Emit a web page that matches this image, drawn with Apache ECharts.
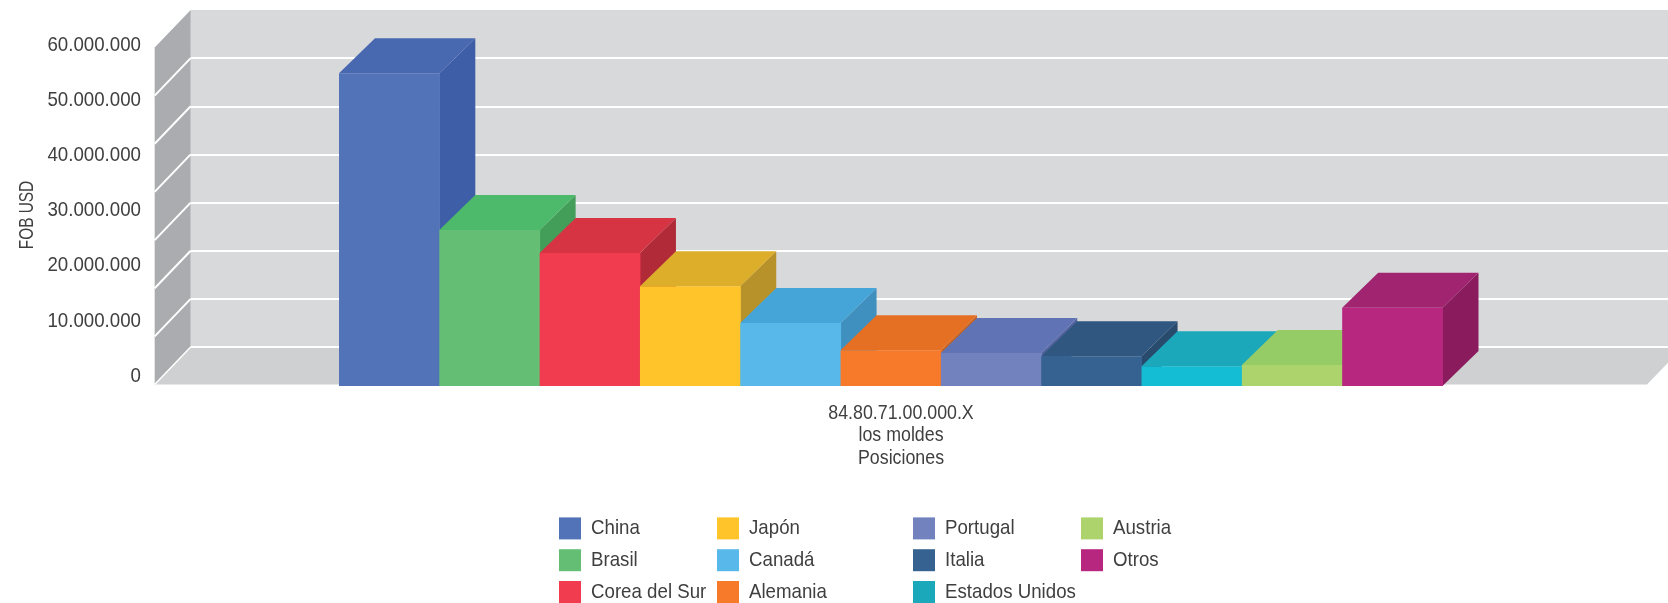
<!DOCTYPE html>
<html><head><meta charset="utf-8">
<style>html,body{margin:0;padding:0;background:#fff}#c{width:1668px;height:603px}</style>
<script src="https://cdn.jsdelivr.net/npm/echarts@6/dist/echarts.min.js"></script>
</head><body><div id="c"></div>
<script>
const categories = ['84.80.71.00.000.X\nlos moldes\nPosiciones'];
const countries = ['China','Brasil','Corea del Sur','Japón','Canadá','Alemania','Portugal','Italia','Estados Unidos','Austria','Otros'];
const values = [56700000,28300000,24100000,18100000,11400000,6500000,6000000,5400000,3600000,3800000,14200000];
const frontColors = ['#5373b9','#64bf75','#f03c4e','#fec429','#58b8e9','#f77a2b','#7182bf','#366292','#14bdd3','#acd36c','#b8277f'];
const topColors   = ['#4868b0','#4dba6b','#d63343','#ddae2a','#45a5d9','#e57024','#6074b5','#30577f','#1ba8bb','#96cc66','#a0246f'];
const sideColors  = ['#3f5ea8','#439e59','#b12a38','#b7922a','#3f8fbf','#c9621f','#5363a0','#284a6d','#178f9f','#80ad57','#8a1c5e'];
const legendColors = ['#5373b9','#64bf75','#f03c4e','#fec429','#58b8e9','#f77a2b','#7182bf','#366292','#1ba8bb','#acd36c','#b8277f'];
const legendColumns = [
  ['China','Brasil','Corea del Sur'],
  ['Japón','Canadá','Alemania'],
  ['Portugal','Italia','Estados Unidos'],
  ['Austria','Otros']
];
const legendLefts = [559,717,913,1081];
const wallLines = [10000000,20000000,30000000,40000000,50000000,60000000];
const FONT = '"Liberation Sans",sans-serif';
const TEXT = '#3f3f3f';
const DX = 36, DY = 35;
const WDX = 36, WDY = 37.5;

function barSeries(name, i) {
  return {
    type: 'custom', name, xAxisIndex: 1, yAxisIndex: 1, z: 3 + i,
    itemStyle: { color: legendColors[i] },
    encode: { x: 0, y: 1 },
    data: [[0, values[i]]],
    renderItem(params, api) {
      const top = api.coord([0, api.value(1)]);
      const base = api.coord([0, 0]);
      const bw = api.size([1, 0])[0] / countries.length;
      const x0 = top[0] + (i - countries.length / 2) * bw;
      const x1 = x0 + bw;
      const yT = top[1], yB = base[1];
      return { type: 'group', children: [
        { type: 'polygon', shape: { points: [[x1,yT],[x1+DX,yT-DY],[x1+DX,yB-DY],[x1,yB]] }, style: { fill: sideColors[i] } },
        { type: 'polygon', shape: { points: [[x0,yT],[x0+DX,yT-DY],[x1+DX,yT-DY],[x1,yT]] }, style: { fill: topColors[i] } },
        { type: 'rect', shape: { x: x0, y: yT, width: bw + 0.5, height: yB - yT }, style: { fill: frontColors[i] } }
      ] };
    }
  };
}

const roomSeries = {
  type: 'custom', xAxisIndex: 2, yAxisIndex: 2, z: 1, silent: true,
  data: [[0, 0]], encode: { x: 0, y: 1 },
  renderItem(params, api) {
    const p0 = api.coord([0, 0]);
    const pTop = api.coord([0, 70000000]);
    const p1 = api.coord([1, 0]);
    const x = p0[0], y0 = p0[1], yT = pTop[1], xR = p1[0] + 15;
    return { type: 'group', children: [
      { type: 'polygon', shape: { points: [[x,yT],[x,y0],[x-WDX,y0+WDY],[x-WDX,yT+WDY]] }, style: { fill: '#abacaf' } },
      { type: 'polygon', shape: { points: [[x,y0],[xR,y0],[xR-WDX,y0+WDY],[x-WDX,y0+WDY]] }, style: { fill: '#cfd0d2' } },
      { type: 'line', shape: { x1: x, y1: y0, x2: x-WDX, y2: y0+WDY }, style: { stroke: '#fff', lineWidth: 1.5 } },
      { type: 'line', shape: { x1: x, y1: y0, x2: xR, y2: y0 }, style: { stroke: '#fff', lineWidth: 2 } }
    ] };
  }
};
const wallLineSeries = {
  type: 'custom', xAxisIndex: 2, yAxisIndex: 2, z: 2, silent: true,
  data: wallLines.map(v => [0, v]), encode: { x: 0, y: 1 },
  renderItem(params, api) {
    const p = api.coord([0, api.value(1)]);
    return { type: 'line', shape: { x1: p[0], y1: p[1], x2: p[0]-WDX, y2: p[1]+WDY }, style: { stroke: '#fff', lineWidth: 2 } };
  }
};

const chart = echarts.init(document.getElementById('c'), null, { renderer: 'canvas' });
chart.setOption({
  animation: false,
  backgroundColor: '#fff',
  textStyle: { fontFamily: FONT },
  grid: [
    { left: 155, width: 1492, top: 45, height: 331, outerBoundsMode: 'none' },
    { left: 339, width: 1103.5, top: 55, height: 331, outerBoundsMode: 'none' },
    { left: 190.67, right: 0, top: 10, height: 337, show: true, backgroundColor: '#d8d9db', borderWidth: 0, outerBoundsMode: 'none' }
  ],
  xAxis: [
    { type: 'category', gridIndex: 0, data: categories, axisLine: { show: false }, axisTick: { show: false },
      axisLabel: { margin: 26, fontSize: 20, color: TEXT, fontFamily: FONT, lineHeight: 22.5 } },
    { type: 'category', gridIndex: 1, data: categories, show: false },
    { type: 'value', gridIndex: 2, min: 0, max: 1, show: false, splitLine: { show: false } }
  ],
  yAxis: [
    { type: 'value', gridIndex: 0, min: 0, max: 60000000, interval: 10000000,
      axisLine: { show: false }, axisTick: { show: false }, splitLine: { show: false },
      axisLabel: { margin: 14, fontSize: 21, color: TEXT, fontFamily: FONT,
        formatter: v => String(v).replace(/\B(?=(\d{3})+$)/g, '.') },
      name: 'FOB USD', nameLocation: 'middle', nameGap: 117.5, nameRotate: 90, nameMoveOverlap: false,
      nameTextStyle: { fontSize: 20, color: TEXT, fontFamily: FONT, padding: [0, 9, 0, 0] } },
    { type: 'value', gridIndex: 1, min: 0, max: 60000000, show: false },
    { type: 'value', gridIndex: 2, min: 0, max: 70000000, interval: 10000000,
      axisLine: { show: false }, axisTick: { show: false }, axisLabel: { show: false },
      splitLine: { show: true, showMaxLine: false, showMinLine: false, lineStyle: { color: '#fff', width: 2 } } }
  ],
  legend: legendColumns.map((col, i) => ({
    data: col, orient: 'vertical', left: legendLefts[i], top: 517.4, padding: 0,
    itemWidth: 22, itemHeight: 22, itemGap: 9.8, icon: 'rect', selectedMode: false,
    textStyle: { fontSize: 21, color: TEXT, fontFamily: FONT, padding: [0,0,0,5] }
  })),
  series: [roomSeries, wallLineSeries].concat(countries.map(barSeries))
});

// The reference uses a condensed face that is not installed: narrow the real text horizontally.
function condenseText() {
  const zr = chart.getZr();
  zr.storage.getDisplayList(true, true).forEach(el => {
    if (el.type === 'tspan' || (el.style && typeof el.style.text === 'string' && el.style.text && !el.shape)) {
      const t = el.style.text;
      const s = t === 'FOB USD' ? 0.77 : 0.89;
      el.originX = el.style.x || 0;
      el.originY = el.style.y || 0;
      el.scaleX = s;
      el.markRedraw();
    }
  });
  zr.refreshImmediately();
}
condenseText();
</script></body></html>
